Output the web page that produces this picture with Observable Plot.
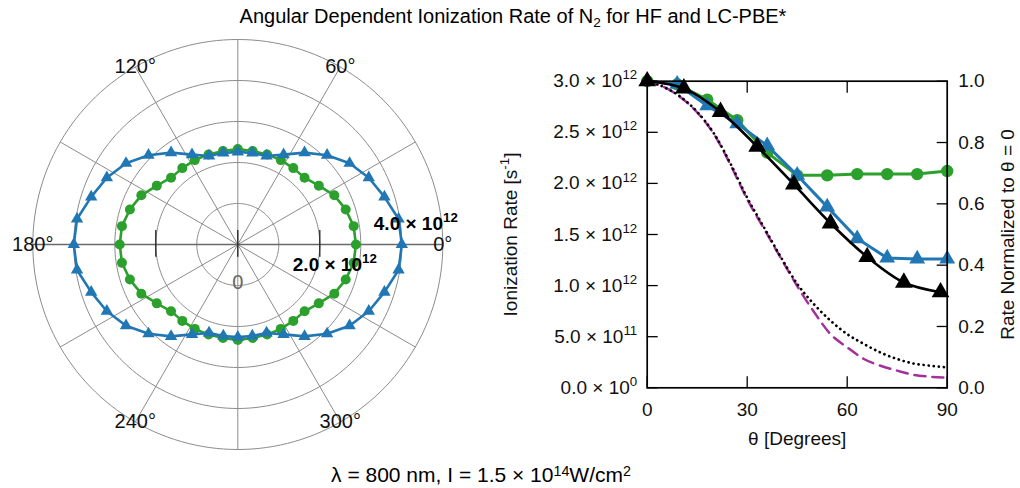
<!DOCTYPE html>
<html><head><meta charset="utf-8">
<script src="https://cdn.jsdelivr.net/npm/d3@7"></script>
<script src="https://cdn.jsdelivr.net/npm/@observablehq/plot@0.6"></script>
<style>
body{margin:0;width:1020px;height:488px;position:relative;overflow:hidden;background:#fff;font-family:"Liberation Sans",Arial,sans-serif;color:#000;}
.lbl{position:absolute;white-space:nowrap;transform:translateX(-50%);z-index:5;}
.lbl sub,.lbl sup{font-size:0.68em;line-height:0;position:relative;vertical-align:baseline;}
.lbl sub{top:0.3em;} .lbl sup{top:-0.45em;}
#title{left:513px;top:6px;font-size:20px;line-height:20px;}
#caption{left:481px;top:464px;font-size:21px;line-height:21px;}
#polar{position:absolute;left:0;top:0;width:480px;height:488px;}
#rect{position:absolute;left:490px;top:40px;width:530px;height:420px;}
</style></head><body>
<div id="polar"></div><div id="rect"></div>
<div id="title" class="lbl">Angular Dependent Ionization Rate of N<sub>2</sub> for HF and LC-PBE*</div>
<div id="caption" class="lbl">λ = 800 nm, I = 1.5 × 10<sup>14</sup>W/cm<sup>2</sup></div>
<script>
// ---------- data ----------
// LC-PBE* (blue triangles), rate in units of 1e12 s^-1
const blueAngles = [0, 9, 18, 27, 36, 45, 54, 63, 72, 81, 90];
const blueRate   = [3.0, 2.97, 2.76, 2.585, 2.37, 2.08, 1.77, 1.46, 1.27, 1.26, 1.26];
// HF (green circles), normalized to theta = 0
const greenAngles = [0, 9, 18, 27, 36, 45, 54, 63, 72, 81, 90];
const greenNorm   = [1.0, 0.99, 0.94, 0.873, 0.767, 0.693, 0.693, 0.697, 0.697, 0.697, 0.707];
const hfRateAtZero = 1.88; // absolute HF rate at 0 deg, 1e12 s^-1 (polar panel)
// black triangles with smooth curve, 1e12 s^-1
const blackAngles = [0, 11, 22, 33, 44, 55, 66, 77, 88];
const blackRate   = [3.0, 2.93, 2.70, 2.36, 1.99, 1.61, 1.28, 1.03, 0.935];
// model curves, normalized
const curveAngles = [0, 5, 10, 15, 20, 25, 30, 35, 40, 45, 50, 55, 60, 65, 70, 75, 80, 85, 90];
const dottedNorm  = [1.0, 0.981, 0.949, 0.90, 0.83, 0.731, 0.62, 0.524, 0.428, 0.339, 0.273, 0.219, 0.175, 0.143, 0.115, 0.094, 0.079, 0.072, 0.066];
const dashedNorm  = [1.0, 0.981, 0.948, 0.898, 0.828, 0.727, 0.615, 0.52, 0.425, 0.332, 0.248, 0.175, 0.132, 0.094, 0.072, 0.056, 0.042, 0.036, 0.033];
// axes
const leftTicks = [0, 0.5e12, 1.0e12, 1.5e12, 2.0e12, 2.5e12, 3.0e12];
const leftTickLabels = ["0.0 × 10^{0}", "5.0 × 10^{11}", "1.0 × 10^{12}", "1.5 × 10^{12}", "2.0 × 10^{12}", "2.5 × 10^{12}", "3.0 × 10^{12}"];
const rightTicksNorm = [0, 0.2, 0.4, 0.6, 0.8, 1.0];
const rightTickLabels = ["0.0", "0.2", "0.4", "0.6", "0.8", "1.0"];
const xTicks = [0, 30, 60, 90];
const polarRings = [1, 2, 3, 4, 5];
const polarSpokes = [0, 30, 60, 90, 120, 150, 180, 210, 240, 270, 300, 330];
const polarAngleLabels = [0, 60, 120, 180, 240, 300];
const polarRadialTicks = [-2, 0, 2];

const BLUE = "#2177b4", GREEN = "#2ca02c", PURPLE = "#a3309b";
const deg = Math.PI / 180;
const rate0 = blueRate[0] * 1e12;

// ---------- polar panel ----------
function mirror(angles, values) {
  const m = new Map();
  angles.forEach((t, i) => {
    for (const a of [t, 180 - t, 180 + t, 360 - t]) {
      const k = ((a % 360) + 360) % 360;
      if (!m.has(k)) m.set(k, values[i]);
    }
  });
  return [...m].sort((p, q) => p[0] - q[0]).map(([a, v]) => ({a, R: 1 + v}));
}
const bluePolar = mirror(blueAngles, blueRate);
const greenPolar = mirror(greenAngles, greenNorm.map(v => v * hfRateAtZero));
const px = d => d.R * Math.cos(d.a * deg), py = d => d.R * Math.sin(d.a * deg);
const ringPts = polarRings.flatMap(k => d3.range(0, 361, 2).map(t => ({k, x: k * Math.cos(t * deg), y: k * Math.sin(t * deg)})));
const Rmax = d3.max(polarRings);

const U = 41; // px per ring
const polar = Plot.plot({
  width: 480, height: 488, margin: 0,
  x: {domain: [-237.3 / U, (480 - 237.3) / U], axis: null},
  y: {domain: [-(488 - 244) / U, 244 / U], axis: null},
  style: {fontFamily: "'Liberation Sans', Arial, sans-serif", fontSize: "20px", background: "transparent", overflow: "visible"},
  marks: [
    Plot.line(ringPts, {x: "x", y: "y", z: "k", stroke: "#8c8c8c", strokeWidth: 1}),
    Plot.link(polarSpokes, {x1: 0, y1: 0, x2: a => Rmax * Math.cos(a * deg), y2: a => Rmax * Math.sin(a * deg), stroke: "#8c8c8c", strokeWidth: 1}),
    Plot.ruleY([0], {x1: -Rmax, x2: Rmax, stroke: "#6a6a6a", strokeWidth: 1.6}),
    Plot.ruleX(polarRadialTicks, {y1: -0.31, y2: 0.34, stroke: "#222", strokeWidth: 1.3}),
    Plot.line(greenPolar, {x: px, y: py, curve: "linear-closed", stroke: GREEN, strokeWidth: 2.6}),
    Plot.dot(greenPolar, {x: px, y: py, r: 5, fill: GREEN}),
    Plot.line(bluePolar, {x: px, y: py, curve: "linear-closed", stroke: BLUE, strokeWidth: 2.6}),
    Plot.dot(bluePolar, {x: px, y: py, r: 4.6, symbol: "triangle", fill: BLUE}),
    Plot.text(polarAngleLabels, {x: a => Rmax * Math.cos(a * deg), y: a => Rmax * Math.sin(a * deg), text: a => a + "°", fill: "#111"}),
    Plot.text([0], {x: 0, y: -1, text: ["0"], dy: -3, fill: "#666"}),
    Plot.text([2], {x: d => d, y: 0, text: ["2.0 × 10^{12}"], textAnchor: "start", dx: -27, dy: 20, fontWeight: "bold", fontSize: 19}),
    Plot.text([4], {x: d => d, y: 0, text: ["4.0 × 10^{12}"], textAnchor: "start", dx: -28, dy: -21, fontWeight: "bold", fontSize: 19})
  ]
});
document.getElementById("polar").append(polar);

// ---------- cartesian panel ----------
const blue = blueAngles.map((a, i) => ({a, y: blueRate[i] * 1e12}));
const green = greenAngles.map((a, i) => ({a, y: greenNorm[i] * rate0}));
const black = blackAngles.map((a, i) => ({a, y: blackRate[i] * 1e12}));
const dotted = curveAngles.map((a, i) => ({a, y: dottedNorm[i] * rate0}));
const dashed = curveAngles.map((a, i) => ({a, y: dashedNorm[i] * rate0}));
const rightTicks = rightTicksNorm.map(v => v * rate0);

const rect = Plot.plot({
  width: 530, height: 420,
  marginLeft: 156.7, marginRight: 73.3, marginTop: 40.7, marginBottom: 72.7,
  x: {domain: [0, 90], label: null},
  y: {domain: [0, rate0], label: null},
  style: {fontFamily: "'Liberation Sans', Arial, sans-serif", fontSize: "19px", background: "transparent", overflow: "visible"},
  marks: [
    Plot.line(dashed, {x: "a", y: "y", stroke: PURPLE, strokeWidth: 2.5, strokeDasharray: "11 7", curve: "monotone-x"}),
    Plot.line(dotted, {x: "a", y: "y", stroke: "black", strokeWidth: 2.7, strokeDasharray: "0.1 5", strokeLinecap: "round", curve: "monotone-x"}),
    Plot.line(green, {x: "a", y: "y", stroke: GREEN, strokeWidth: 3}),
    Plot.dot(green, {x: "a", y: "y", r: 6.2, fill: GREEN}),
    Plot.line(blue, {x: "a", y: "y", stroke: BLUE, strokeWidth: 3}),
    Plot.dot(blue, {x: "a", y: "y", r: 5.9, symbol: "triangle", fill: BLUE}),
    Plot.line(black, {x: "a", y: "y", stroke: "black", strokeWidth: 2.6, curve: "catmull-rom"}),
    Plot.dot(black, {x: "a", y: "y", r: 6.6, symbol: "triangle", fill: "black"}),
    Plot.frame({stroke: "black", strokeWidth: 1.7}),
    Plot.axisY(leftTicks, {anchor: "left", tickSize: -11, fill: "none", label: null, strokeWidth: 1.3}),
    Plot.axisY(leftTicks, {anchor: "left", tickSize: 0, tickPadding: 10, tickFormat: d => leftTickLabels[leftTicks.indexOf(d)], label: null, fill: "#111"}),
    Plot.axisY(rightTicks, {anchor: "right", tickSize: -11, fill: "none", label: null, strokeWidth: 1.3}),
    Plot.axisY(rightTicks, {anchor: "right", tickSize: 0, tickPadding: 11, tickFormat: d => rightTickLabels[rightTicks.indexOf(d)], label: null, fill: "#111"}),
    Plot.axisX(xTicks, {anchor: "bottom", tickSize: -11, fill: "none", label: null, strokeWidth: 1.3}),
    Plot.axisX(xTicks, {anchor: "bottom", tickSize: 0, tickPadding: 15, tickFormat: d => String(d), label: null, fill: "#111"}),
    Plot.axisX([30, 60], {anchor: "top", tickSize: -11, fill: "none", label: null, strokeWidth: 1.3}),
    Plot.text(["Ionization Rate [s^{-1}]"], {frameAnchor: "left", textAnchor: "middle", rotate: -90, dx: -136, fill: "#111"}),
    Plot.text(["Rate Normalized to θ = 0"], {frameAnchor: "right", textAnchor: "middle", rotate: -90, dx: 61, fill: "#111"}),
    Plot.text(["θ [Degrees]"], {frameAnchor: "bottom", dy: 57, fill: "#111"})
  ]
});
document.getElementById("rect").append(rect);

// ---------- superscripts in SVG text ----------
function supify(svg) {
  for (const t of svg.querySelectorAll("text")) {
    const s = t.textContent;
    if (!s.includes("^{")) continue;
    const fs = parseFloat(getComputedStyle(t).fontSize) || 18;
    const parts = s.split(/(\^\{[^}]*\})/);
    while (t.firstChild) t.removeChild(t.firstChild);
    let shifted = false;
    for (const p of parts) {
      if (!p) continue;
      const ts = document.createElementNS("http://www.w3.org/2000/svg", "tspan");
      if (p.startsWith("^{")) {
        ts.textContent = p.slice(2, -1);
        ts.setAttribute("dy", (-0.42 * fs).toFixed(2));
        ts.setAttribute("font-size", (0.7 * fs).toFixed(2));
        shifted = true;
      } else {
        ts.textContent = p;
        if (shifted) { ts.setAttribute("dy", (0.42 * fs).toFixed(2)); shifted = false; }
      }
      t.appendChild(ts);
    }
  }
}
supify(polar); supify(rect);
</script>
</body></html>
